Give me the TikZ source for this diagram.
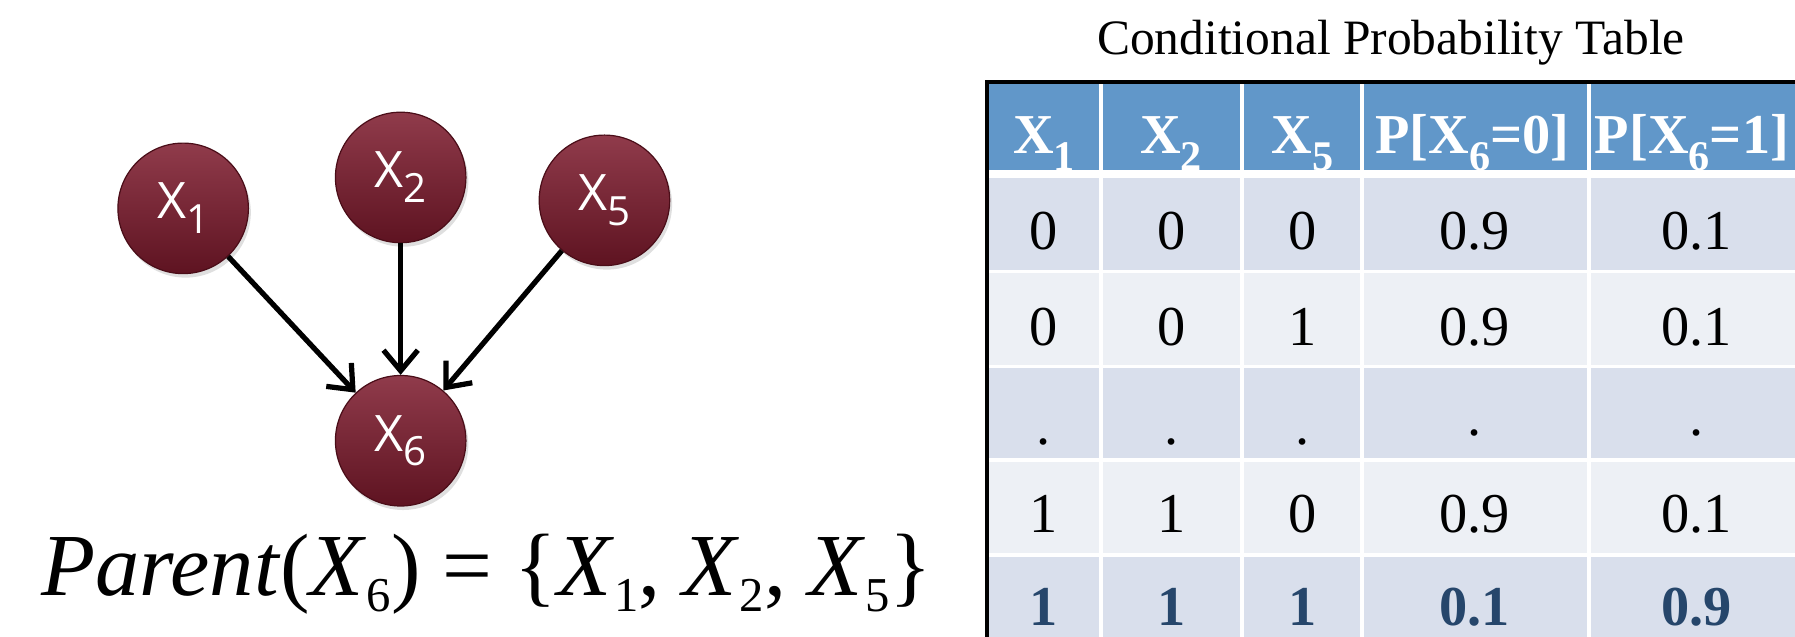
\documentclass[tikz,border=0pt]{standalone}
\usepackage{fontspec}
\setmainfont{Liberation Serif}
\setsansfont{Open Sans}
\usepackage{graphicx}
\usepackage{tikz}
\usetikzlibrary{positioning,arrows.meta,shadows}

\definecolor{hdrblue}{HTML}{6197C9}
\definecolor{rowdark}{HTML}{D9DFEC}
\definecolor{rowlight}{HTML}{EDF0F5}
\definecolor{boldblue}{HTML}{26466B}
\definecolor{nodetop}{HTML}{903B4B}
\definecolor{nodebot}{HTML}{5E1321}
\definecolor{nodeedge}{HTML}{4A0D18}

% lowered subscripts: header, formula, node label
\newcommand{\hsub}[1]{\raisebox{-0.65ex}{\scalebox{0.75}{#1}}}
\newcommand{\fsub}[1]{\raisebox{-0.4ex}{\scalebox{0.55}{#1}}}
\newcommand{\nsub}[1]{\raisebox{-0.55ex}{\scalebox{0.8}{#1}}}

\begin{document}
\begin{tikzpicture}[x=0.1mm,y=-0.1mm,
  >={Straight Barb[length=1.8mm,width=3mm]},
  var/.style={circle,minimum size=11.4mm,inner sep=0pt,draw=nodeedge,line width=0.3pt,
              top color=nodetop,bottom color=nodebot,text=white,
              font=\sffamily\fontsize{12.5}{12.5}\selectfont,
              drop shadow={opacity=0.25,shadow xshift=0.6pt,shadow yshift=-1pt}},
  link/.style={->,line width=1.3pt},
  hd/.style={anchor=base,inner sep=0pt,text=white,font=\bfseries\fontsize{14}{14}\selectfont},
  val/.style={anchor=base,inner sep=0pt,font=\fontsize{14}{14}\selectfont},
  best/.style={val,text=boldblue,font=\bfseries\fontsize{14}{14}\selectfont},
  gridline/.style={white,line width=0.9pt}]
  \clip (0,0) rectangle (1568,556);
  % --- Bayesian network: three parents of X6 ---
  \node[var] (x1) at (160,182) {X\nsub{1}};
  \node[var] (x2) at (350,155) {X\nsub{2}};
  \node[var] (x5) at (528,175) {X\nsub{5}};
  \node[var] (x6) at (350,385) {X\nsub{6}};
  \draw[link] (x1) -- (x6);
  \draw[link] (x2) -- (x6);
  \draw[link] (x5) -- (x6);
  \node[anchor=base,inner sep=0pt,font=\fontsize{22}{22}\selectfont] (par) at (425,520)
    {\textit{Parent}(\textit{X}\fsub{6}) = \{\textit{X}\fsub{1}, \textit{X}\fsub{2}, \textit{X}\fsub{5}\}};
  % --- conditional probability table ---
  \node[anchor=base,inner sep=0pt,font=\fontsize{12.3}{12.3}\selectfont] (title) at (1215,48)
    {Conditional Probability Table};
  \fill[hdrblue] (862,72) rectangle (1568,152);
  \foreach \t/\b/\c in {152/237/rowdark,237/320/rowlight,320/402/rowdark,
                        402/485/rowlight,485/570/rowdark}
    \fill[\c] (862,\t) rectangle (1568,\b);
  \foreach \x in {962,1085,1190,1388}
    \draw[gridline] (\x,72) -- (\x,556);
  \foreach \y in {237,320,402,485}
    \draw[gridline] (862,\y) -- (1568,\y);
  \draw[white,line width=1.8pt] (862,152) -- (1568,152);
  \draw[line width=1pt] (862,556) -- (862,72) -- (1568,72);
  % header
  \node[hd] (h1) at (912,134)  {X\hsub{1}};
  \node[hd] (h2) at (1023,134) {X\hsub{2}};
  \node[hd] (h3) at (1138,134) {X\hsub{5}};
  \node[hd] (h4) at (1286,134) {P[X\hsub{6}=0]};
  \node[hd] (h5) at (1478,134) {P[X\hsub{6}=1]};
  % rows
  \foreach \r/\a/\b/\c/\p/\q/\yb in {1/0/0/0/0.9/0.1/218,2/0/0/1/0.9/0.1/302,4/1/1/0/0.9/0.1/465}{
    \node[val] (c\r-1) at (912,\yb)  {\a};
    \node[val] (c\r-2) at (1023,\yb) {\b};
    \node[val] (c\r-3) at (1138,\yb) {\c};
    \node[val] (c\r-4) at (1288,\yb) {\p};
    \node[val] (c\r-5) at (1482,\yb) {\q};}
  \foreach \x [count=\k] in {912,1023,1138}
    \node[val] (c3-\k) at (\x,388) {.};
  \node[val] (c3-4) at (1288,380) {.};
  \node[val] (c3-5) at (1482,380) {.};
  \node[best] (c5-1) at (912,546)  {1};
  \node[best] (c5-2) at (1023,546) {1};
  \node[best] (c5-3) at (1138,546) {1};
  \node[best] (c5-4) at (1288,546) {0.1};
  \node[best] (c5-5) at (1482,546) {0.9};
\end{tikzpicture}
\end{document}
